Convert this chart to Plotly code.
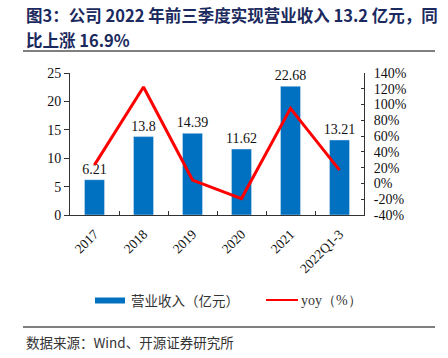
import plotly.graph_objects as go

categories = ["2017", "2018", "2019", "2020", "2021", "2022Q1-3"]
revenue = [6.21, 13.8, 14.39, 11.62, 22.68, 13.21]
yoy = [23.5, 122.2, 4.3, -19.2, 95.2, 16.9]
rev_label_text = ["6.21", "13.8", "14.39", "11.62", "22.68", "13.21"]
left_ticks = [0, 5, 10, 15, 20, 25]
right_ticks = [-40, -20, 0, 20, 40, 60, 80, 100, 120, 140]
right_tick_text = [f"{v}%" for v in right_ticks]

W, H = 448, 358
L, R, T, B = 70, 364, 73, 215  # plot area in pixels

def px(x):
    return (x - L) / (R - L)

def py(y):
    return (B - y) / (B - T)

serif = "Liberation Serif, Times New Roman, serif"
cjk = "Noto Sans CJK SC"

fig = go.Figure()
fig.add_trace(go.Bar(
    x=categories, y=revenue, marker_color="#0070C0",
    text=rev_label_text, textposition="outside", cliponaxis=False,
    constraintext="none",
    textfont=dict(family=serif, size=14, color="#111"),
    name="营业收入（亿元）", showlegend=False,
))
fig.add_trace(go.Scatter(
    x=categories, y=yoy, yaxis="y2", mode="lines",
    line=dict(color="#FF0000", width=3),
    name="yoy（%）", showlegend=False,
))

fig.update_layout(
    width=W, height=H,
    margin=dict(l=L, r=W - R, t=T, b=H - B, autoexpand=False),
    paper_bgcolor="white", plot_bgcolor="white",
    bargap=0.59,
    xaxis=dict(
        type="category", showline=True, linecolor="#333", linewidth=1,
        ticks="inside", tickson="boundaries", ticklen=4, tickcolor="#333",
        tickangle=-45, tickfont=dict(family=serif, size=13.5, color="#111"),
        showgrid=False, ticklabelstandoff=5,
    ),
    yaxis=dict(
        range=[0, 25], tickvals=left_ticks, showline=True, linecolor="#333",
        linewidth=1, ticks="outside", ticklen=5, tickcolor="#333",
        tickfont=dict(family=serif, size=14, color="#111"),
        showgrid=False, zeroline=False,
    ),
    yaxis2=dict(
        range=[-40, 140], tickvals=right_ticks, ticktext=right_tick_text,
        overlaying="y", side="right", showline=True, linecolor="#333",
        linewidth=1, ticks="inside", ticklen=3, tickcolor="#333",
        tickfont=dict(family=serif, size=14, color="#111"),
        showgrid=False, zeroline=False, ticklabelstandoff=6,
    ),
)

title_color = "#1B2A5E"
fig.add_annotation(
    text="<b>图3：公司 2022 年前三季度实现营业收入 13.2 亿元，同</b>",
    xref="paper", yref="paper", x=px(24), y=py(15), xanchor="left", yanchor="middle",
    showarrow=False, font=dict(family=cjk, size=16.5, color=title_color),
)
fig.add_annotation(
    text="<b>比上涨 16.9%</b>",
    xref="paper", yref="paper", x=px(24), y=py(40), xanchor="left", yanchor="middle",
    showarrow=False, font=dict(family=cjk, size=16.5, color=title_color),
)
for yline in (51, 327):
    fig.add_shape(type="line", xref="paper", yref="paper",
                  x0=px(23), x1=px(435), y0=py(yline), y1=py(yline),
                  line=dict(color="#555", width=1.5))

fig.add_annotation(
    text="数据来源：Wind、开源证券研究所",
    xref="paper", yref="paper", x=px(24), y=py(342), xanchor="left", yanchor="middle",
    showarrow=False, font=dict(family=cjk, size=13.5, color="#333"),
)

# legend
fig.add_shape(type="rect", xref="paper", yref="paper",
              x0=px(95), x1=px(125), y0=py(297.5), y1=py(303.5),
              fillcolor="#0070C0", line=dict(width=0))
fig.add_annotation(
    text="营业收入（亿元）", xref="paper", yref="paper", x=px(129), y=py(300),
    xanchor="left", yanchor="middle", showarrow=False,
    font=dict(family=cjk, size=13.5, color="#333"),
)
fig.add_shape(type="line", xref="paper", yref="paper",
              x0=px(266), x1=px(298), y0=py(300), y1=py(300),
              line=dict(color="#FF0000", width=2))
fig.add_annotation(
    text="yoy（%）", xref="paper", yref="paper", x=px(299), y=py(300),
    xanchor="left", yanchor="middle", showarrow=False,
    font=dict(family=serif, size=14, color="#333"),
)

fig.write_html(
    "out.html",
    config={"displayModeBar": False},
    post_script="document.body.style.margin='0';document.body.style.overflow='hidden';",
)
